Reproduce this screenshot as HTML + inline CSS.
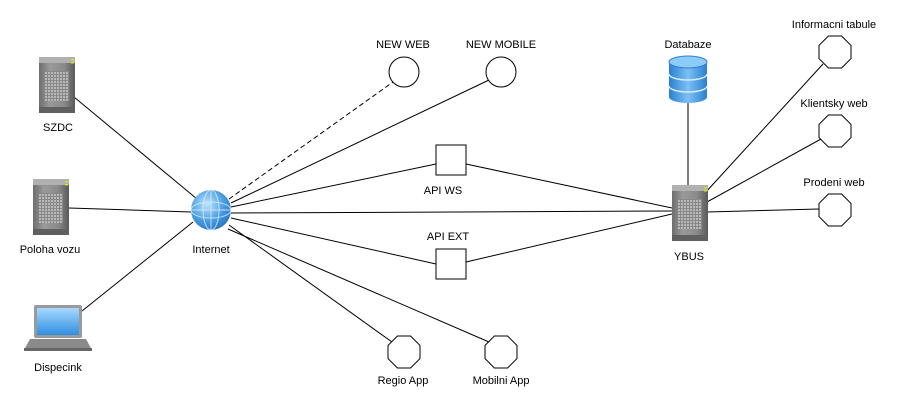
<!DOCTYPE html>
<html><head><meta charset="utf-8"><style>
html,body{margin:0;padding:0;background:#fff;}
svg{display:block;}
text{font-family:"Liberation Sans",sans-serif;font-size:11px;fill:#000;text-anchor:middle;}
</style></head><body>
<svg width="898" height="404" viewBox="0 0 898 404" xmlns="http://www.w3.org/2000/svg">
<defs>
<linearGradient id="srv" x1="0" x2="1" y1="0" y2="0">
<stop offset="0" stop-color="#6e6e6e"/><stop offset="0.3" stop-color="#9a9a9a"/><stop offset="0.7" stop-color="#8a8a8a"/><stop offset="1" stop-color="#5a5a5a"/>
</linearGradient>
<pattern id="grid" width="3" height="3" patternUnits="userSpaceOnUse"><rect width="3" height="3" fill="#888"/><rect width="2" height="2" fill="#b8b8b8"/></pattern>
<radialGradient id="glob" cx="0.4" cy="0.35" r="0.7"><stop offset="0" stop-color="#bfe4ff"/><stop offset="0.6" stop-color="#4a9ee0"/><stop offset="1" stop-color="#2a73c0"/></radialGradient>
<linearGradient id="db" x1="0" x2="1"><stop offset="0" stop-color="#2c7fd0"/><stop offset="0.5" stop-color="#7cc0f5"/><stop offset="1" stop-color="#2c7fd0"/></linearGradient>
<linearGradient id="scr" x1="0" x2="0" y1="0" y2="1"><stop offset="0" stop-color="#a8d8ff"/><stop offset="1" stop-color="#2f8fe0"/></linearGradient>
<g id="server">
<rect x="0" y="0" width="36" height="56" fill="url(#srv)"/>
<rect x="0" y="0" width="36" height="6" fill="#b0b0b0"/>
<rect x="6" y="14" width="24" height="30" fill="url(#grid)"/>
<rect x="32" y="2" width="3" height="1.5" fill="#d8e020"/><rect x="32" y="5" width="3" height="1.5" fill="#d8e020"/>
<rect x="0" y="50" width="36" height="6" fill="#606060"/>
</g>
<polygon id="oct" points="-6.6,-16 6.6,-16 16,-6.6 16,6.6 6.6,16 -6.6,16 -16,6.6 -16,-6.6" fill="#fff" stroke="#000" stroke-width="1"/>
</defs>
<g stroke="#000" stroke-width="1" fill="none">
<line x1="74" y1="97" x2="197" y2="199"/>
<line x1="69" y1="208" x2="191" y2="212"/>
<line x1="82" y1="311" x2="193" y2="222"/>
<line x1="229" y1="199" x2="393" y2="82" stroke-dasharray="5,3"/>
<line x1="231" y1="203" x2="489" y2="80"/>
<line x1="231" y1="207" x2="436" y2="164"/>
<line x1="466" y1="164" x2="672" y2="208"/>
<line x1="231" y1="213" x2="672" y2="211"/>
<line x1="231" y1="218" x2="436" y2="264"/>
<line x1="466" y1="262" x2="672" y2="214"/>
<line x1="229" y1="225" x2="392" y2="342"/>
<line x1="228" y1="229" x2="489" y2="342"/>
<line x1="688" y1="103" x2="688" y2="185"/>
<line x1="705" y1="193" x2="823" y2="64"/>
<line x1="707" y1="202" x2="821" y2="139"/>
<line x1="707" y1="212" x2="819" y2="209"/>
</g>
<use href="#server" x="39" y="57"/>
<use href="#server" x="33" y="179"/>
<use href="#server" x="672" y="185"/>
<!-- laptop -->
<rect x="34" y="305" width="48" height="33" rx="2" fill="#9a9a9a"/>
<rect x="37" y="308" width="42" height="27" fill="url(#scr)"/>
<polygon points="24,350 92,350 86,339 30,339" fill="#8a8a8a"/>
<rect x="24" y="348" width="68" height="3" fill="#666"/>
<!-- globe -->
<circle cx="211" cy="210" r="20" fill="url(#glob)"/>
<g stroke="#d8efff" stroke-width="1" fill="none" opacity="0.8">
<ellipse cx="211" cy="210" rx="8" ry="20"/><line x1="191" y1="210" x2="231" y2="210"/><line x1="211" y1="190" x2="211" y2="230"/>
<ellipse cx="211" cy="210" rx="20" ry="8"/>
</g>
<!-- database -->
<path d="M669,62 v35 a19,6 0 0 0 38,0 v-35" fill="url(#db)"/>
<ellipse cx="688" cy="62" rx="19" ry="6" fill="#8cccf8" stroke="#2c7fd0"/>
<path d="M669,74 a19,6 0 0 0 38,0 M669,86 a19,6 0 0 0 38,0" stroke="#d0ecff" fill="none" stroke-width="1.5"/>
<circle cx="404" cy="72" r="15" fill="#fff" stroke="#000"/>
<circle cx="501" cy="72" r="15" fill="#fff" stroke="#000"/>
<rect x="436" y="145" width="30" height="30" fill="#fff" stroke="#000"/>
<rect x="436" y="249" width="30" height="30" fill="#fff" stroke="#000"/>
<use href="#oct" x="404" y="352"/>
<use href="#oct" x="501" y="352"/>
<use href="#oct" x="835" y="52"/>
<use href="#oct" x="835" y="131"/>
<use href="#oct" x="835" y="210"/>
<text x="58" y="131">SZDC</text>
<text x="50" y="253">Poloha vozu</text>
<text x="58" y="371">Dispecink</text>
<text x="211" y="253">Internet</text>
<text x="403" y="48">NEW WEB</text>
<text x="501" y="48">NEW MOBILE</text>
<text x="443" y="194">API WS</text>
<text x="448" y="240">API EXT</text>
<text x="403" y="384">Regio App</text>
<text x="501" y="384">Mobilni App</text>
<text x="689" y="260">YBUS</text>
<text x="688" y="48">Databaze</text>
<text x="834" y="28">Informacni tabule</text>
<text x="834" y="107">Klientsky web</text>
<text x="834" y="186">Prodeni web</text>
</svg>
</body></html>
